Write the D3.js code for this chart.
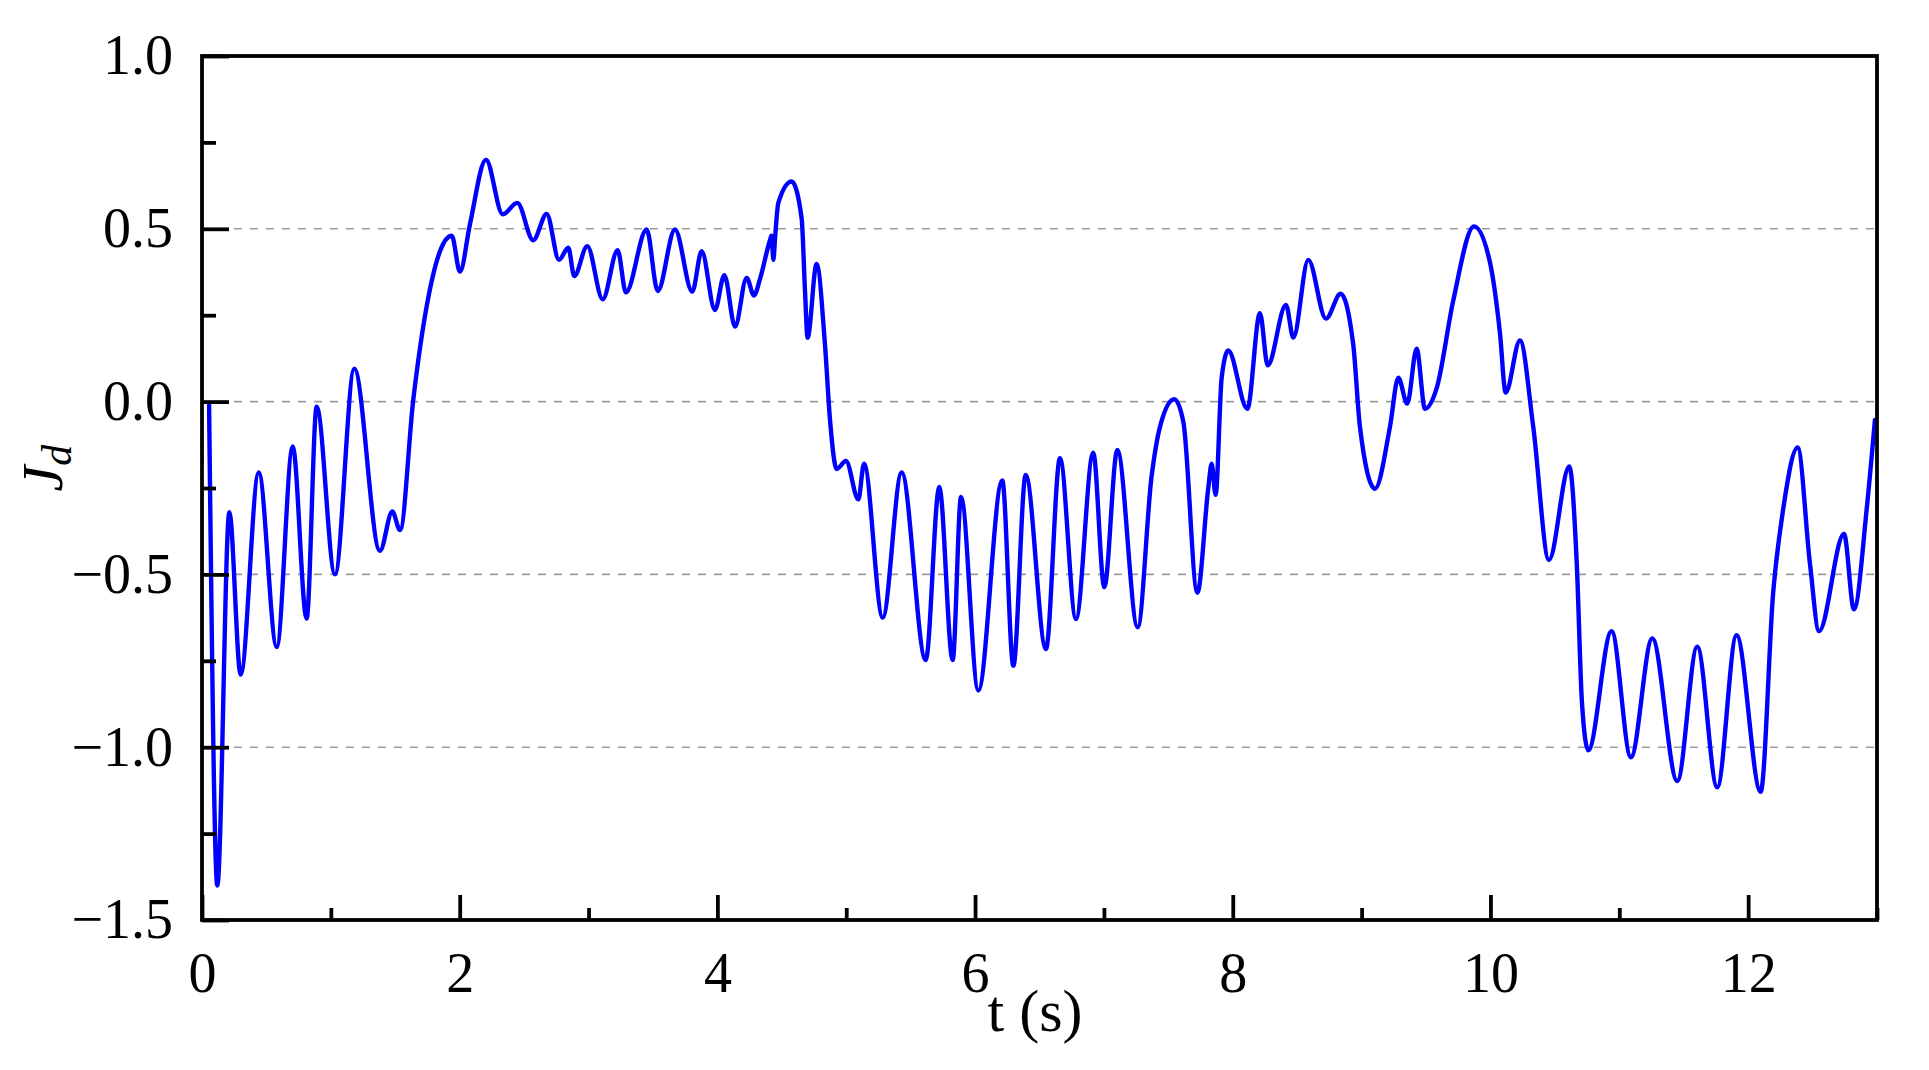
<!DOCTYPE html>
<html>
<head>
<meta charset="utf-8">
<script src="https://cdn.jsdelivr.net/npm/d3@7"></script>
<style>
  html, body { margin: 0; padding: 0; background: #ffffff; }
  svg { display: block; }
</style>
</head>
<body>
<svg id="chart" width="1929" height="1070"></svg>
<script>
// ---- data ----
const timeS = [
  0.055, 0.119, 0.212, 0.300, 0.440, 0.580, 0.704, 0.812, 0.890, 1.032,
  1.182, 1.381, 1.477, 1.537, 1.640, 1.744, 1.847, 1.938, 2.002, 2.080,
  2.204, 2.334, 2.447, 2.571, 2.675, 2.771, 2.843, 2.889, 2.990, 3.110,
  3.226, 3.290, 3.451, 3.537, 3.671, 3.805, 3.878, 3.981, 4.054, 4.137,
  4.227, 4.284, 4.331, 4.408, 4.420, 4.435, 4.447, 4.473, 4.576, 4.654,
  4.680, 4.700, 4.770, 4.835, 4.875, 4.926, 4.998, 5.094, 5.138, 5.283,
  5.430, 5.617, 5.722, 5.826, 5.891, 6.025, 6.211, 6.297, 6.393, 6.550,
  6.659, 6.783, 6.917, 7.003, 7.104, 7.262, 7.370, 7.435, 7.546, 7.617,
  7.725, 7.810, 7.836, 7.867, 7.914, 7.965, 8.113, 8.211, 8.271, 8.413,
  8.470, 8.586, 8.723, 8.837, 8.935, 8.987, 9.104, 9.220, 9.285, 9.354,
  9.427, 9.492, 9.582, 9.711, 9.872, 9.996, 10.074, 10.118, 10.229, 10.332,
  10.454, 10.612, 10.670, 10.710, 10.759, 10.940, 11.090, 11.256, 11.450, 11.605,
  11.760, 11.910, 12.097, 12.195, 12.272, 12.384, 12.480, 12.550, 12.744, 12.821,
  12.920, 12.984
];
const jd = [
  -0.010, -1.400, -0.320, -0.790, -0.205, -0.710, -0.130, -0.628, -0.015, -0.500,
  0.095, -0.432, -0.318, -0.372, 0.006, 0.276, 0.435, 0.480, 0.376, 0.514,
  0.700, 0.542, 0.575, 0.467, 0.543, 0.410, 0.445, 0.363, 0.450, 0.296,
  0.438, 0.316, 0.498, 0.320, 0.498, 0.318, 0.435, 0.265, 0.366, 0.217,
  0.358, 0.307, 0.355, 0.467, 0.480, 0.410, 0.470, 0.575, 0.637, 0.530,
  0.320, 0.185, 0.398, 0.165, -0.057, -0.195, -0.172, -0.283, -0.180, -0.625,
  -0.205, -0.748, -0.247, -0.748, -0.276, -0.836, -0.228, -0.764, -0.212, -0.716,
  -0.164, -0.629, -0.148, -0.537, -0.140, -0.653, -0.216, -0.073, 0.007, -0.060,
  -0.553, -0.250, -0.180, -0.270, 0.070, 0.148, -0.021, 0.256, 0.105, 0.280,
  0.185, 0.410, 0.240, 0.312, 0.165, -0.073, -0.252, -0.073, 0.069, -0.006,
  0.153, -0.021, 0.038, 0.292, 0.507, 0.403, 0.197, 0.026, 0.177, -0.073,
  -0.458, -0.188, -0.470, -0.870, -1.009, -0.664, -1.029, -0.685, -1.098, -0.709,
  -1.116, -0.676, -1.129, -0.549, -0.311, -0.133, -0.470, -0.664, -0.383, -0.601,
  -0.311, -0.053
];
const xMajorTicks = [0, 2, 4, 6, 8, 10, 12];
const xMinorTicks = [1, 3, 5, 7, 9, 11, 13];
const yMajorTicks = [1.0, 0.5, 0.0, -0.5, -1.0, -1.5];
const yMinorTicks = [0.75, 0.25, -0.25, -0.75, -1.25];
const gridValues = [0.5, 0.0, -0.5, -1.0];
const xLabel = "t (s)";

(function () {
  // ---- layout ----
  const pLeft = 202, pRight = 1877, pTop = 56, pBottom = 920;
  const svg = d3.select("#chart");
  const x = d3.scaleLinear().domain([0, 13]).range([pLeft, pRight]);
  const y = d3.scaleLinear().domain([-1.5, 1.0]).range([pBottom, pTop]);
  const font = "'Liberation Serif', 'Times New Roman', serif";

  // grid
  svg.append("g").selectAll("line").data(gridValues).join("line")
    .attr("x1", pLeft).attr("x2", pRight)
    .attr("y1", d => y(d)).attr("y2", d => y(d))
    .attr("stroke", "#9a9a9a").attr("stroke-width", 1.6)
    .attr("stroke-dasharray", "8,8");

  // curve
  const pts = timeS.map((t, i) => [t, jd[i]]);
  svg.append("path").datum(pts)
    .attr("fill", "none").attr("stroke", "#0000ff").attr("stroke-width", 4.4)
    .attr("stroke-linejoin", "round").attr("stroke-linecap", "round")
    .attr("d", d3.line().x(d => x(d[0])).y(d => y(d[1])).curve(d3.curveMonotoneX));

  // axes
  function styleAxis(g) {
    g.select(".domain").remove();
    g.selectAll(".tick line").attr("stroke", "#000").attr("stroke-width", 3.8);
    g.selectAll("text").attr("font-family", font).attr("font-size", 56).attr("fill", "#000");
  }
  svg.append("g").attr("transform", `translate(0,${pBottom})`)
    .call(d3.axisBottom(x).tickValues(xMajorTicks).tickFormat(d3.format("d")).tickSize(-25).tickPadding(32))
    .call(styleAxis);
  svg.append("g").attr("transform", `translate(0,${pBottom})`)
    .call(d3.axisBottom(x).tickValues(xMinorTicks).tickFormat("").tickSize(-12))
    .call(styleAxis);
  svg.append("g").attr("transform", `translate(${pLeft},0)`)
    .call(d3.axisLeft(y).tickValues(yMajorTicks).tickFormat(d3.format(".1f")).tickSize(-27).tickPadding(29))
    .call(styleAxis);
  svg.append("g").attr("transform", `translate(${pLeft},0)`)
    .call(d3.axisLeft(y).tickValues(yMinorTicks).tickFormat("").tickSize(-14))
    .call(styleAxis);

  // frame
  svg.append("rect").attr("x", pLeft).attr("y", pTop)
    .attr("width", pRight - pLeft).attr("height", pBottom - pTop)
    .attr("fill", "none").attr("stroke", "#000").attr("stroke-width", 3.8);

  // axis titles
  svg.append("text").attr("x", 1035).attr("y", 1031)
    .attr("text-anchor", "middle").attr("font-family", font).attr("font-size", 60)
    .text(xLabel);
  const yl = svg.append("text").attr("transform", "translate(62,468) rotate(-90)")
    .attr("text-anchor", "middle").attr("font-family", font).attr("font-size", 58)
    .attr("font-style", "italic");
  yl.append("tspan").text("J");
  yl.append("tspan").attr("dy", 9).attr("font-size", 42).text("d");
})();
</script>
</body>
</html>
